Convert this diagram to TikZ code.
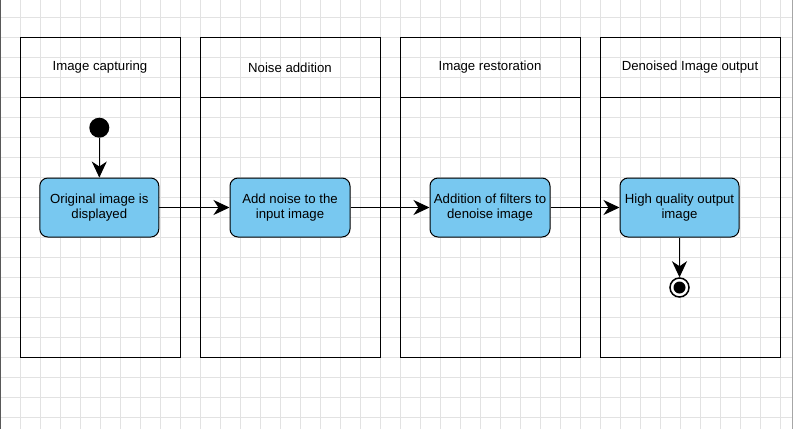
\documentclass[tikz,border=0pt]{standalone}
\usepackage{fontspec}
\setmainfont{Liberation Sans}
\usetikzlibrary{arrows.meta}
\definecolor{actblue}{RGB}{120,200,240}
\definecolor{gridgray}{RGB}{226,226,226}
\begin{document}
\begin{tikzpicture}[x=1pt, y=-1pt,
    lanehead/.style={draw, line width=1pt, minimum height=60pt, inner sep=0pt, font=\fontsize{13.2}{15}\selectfont},
    lanebody/.style={draw, line width=1pt, minimum height=260pt, inner sep=0pt},
    activity/.style={draw, rounded corners=8pt, fill=actblue, line width=1pt, minimum height=59pt, inner sep=0pt, align=center, font=\fontsize{13.2}{15.5}\selectfont},
    flow/.style={line width=1pt, -{Stealth[length=16pt, width=15pt, inset=5pt]}}]
    \useasboundingbox (0,0) rectangle (793,429);
    \fill[white] (0,0) rectangle (793,429);

    % grid
    \foreach \gx in {20,40,...,780} \draw[gridgray, line width=1pt] (\gx,0) -- (\gx,429);
    \foreach \gy in {17.7,37.7,...,429} \draw[gridgray, line width=1pt] (0,\gy) -- (793,\gy);
    \draw[black!65, line width=1.2pt] (0.6,0) -- (0.6,429);
    \draw[black!35, line width=1.2pt] (792.4,0) -- (792.4,429);

    % lanes
    \node[lanehead, minimum width=160pt] (headA) at (100,67.5) {Image capturing};
    \node[lanebody, minimum width=160pt] (laneA) at (100,227.5) {};
    \node[lanehead, minimum width=180pt] (headB) at (290,67.5) {Noise addition};
    \node[lanebody, minimum width=180pt] (laneB) at (290,227.5) {};
    \node[lanehead, minimum width=180pt] (headC) at (490,67.5) {Image restoration};
    \node[lanebody, minimum width=180pt] (laneC) at (490,227.5) {};
    \node[lanehead, minimum width=180pt] (headD) at (690,67.5) {Denoised Image output};
    \node[lanebody, minimum width=180pt] (laneD) at (690,227.5) {};

    % activities
    \node[circle, fill=black, minimum size=20pt, inner sep=0pt] (start) at (99.3,127.7) {};
    \node[activity, minimum width=119pt] (capture) at (99.3,207.5) {Original image is\\displayed};
    \node[activity, minimum width=120pt] (addnoise) at (290,207.5) {Add noise to the\\input image};
    \node[activity, minimum width=120pt] (restore) at (490,207.5) {Addition of filters to\\denoise image};
    \node[activity, minimum width=119pt] (output) at (679.5,207.5) {High quality output\\image};
    \node[circle, draw, line width=1.5pt, fill=white, minimum size=19pt, inner sep=0pt] (final) at (679.5,287.5) {};
    \fill[black] (final.center) circle (6pt);

    \draw[flow] (start) -- (capture);
    \draw[flow] (capture) -- (addnoise);
    \draw[flow] (addnoise) -- (restore);
    \draw[flow] (restore) -- (output);
    \draw[flow] (output) -- (final);
\end{tikzpicture}
\end{document}
